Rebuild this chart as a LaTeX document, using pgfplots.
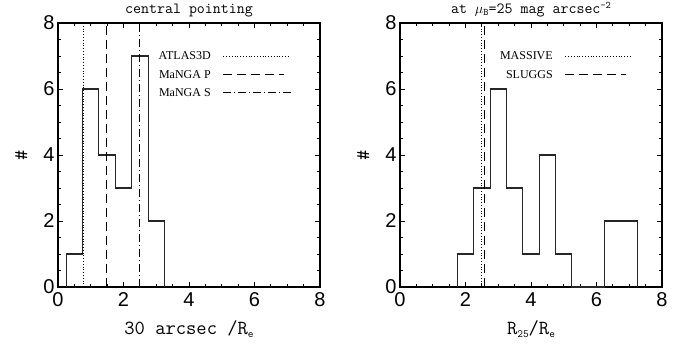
\documentclass[border=0pt]{standalone}
\usepackage{pgfplots}
\pgfplotsset{compat=1.18}
\usepackage{fontspec}
\setmainfont{Liberation Serif}
\newfontfamily\sansf{Liberation Sans}
\pgfplotsset{
  idl/.style={
    scale only axis,
    width=262pt, height=264pt,
    xmin=0, xmax=8, ymin=0, ymax=8,
    xtick={0,2,4,6,8}, ytick={0,2,4,6,8},
    minor x tick num=3, minor y tick num=3,
    tick align=inside,
    tick pos=both,
    major tick length=5pt, minor tick length=3pt,
    axis line style={line width=1.3pt},
    every tick/.style={line width=0.8pt, black},
    /pgf/number format/assume math mode=true,
    tick label style={font=\sansf\fontsize{20}{20}\selectfont},
    xticklabel style={yshift=-2pt},
    title style={font=\ttfamily\fontsize{15.5}{16}\selectfont, at={(axis description cs:0.5,1)}, anchor=base, yshift=4pt},
    xlabel style={font=\ttfamily\fontsize{20}{20}\selectfont, at={(axis description cs:0.5,0)}, anchor=base, yshift=-47pt},
    ylabel style={font=\ttfamily\fontsize{20}{20}\selectfont, at={(axis description cs:-0.14,0.5)}, anchor=center},
    clip=false,
  },
  hist/.style={const plot mark left, line width=1.1pt, black!85, no marks},
}
\tikzset{leg/.style={font=\fontsize{12}{12}\selectfont, anchor=east, inner sep=0pt}}
\begin{document}
\begin{tikzpicture}[x=1pt,y=1pt]
\useasboundingbox (0,0) rectangle (684,345);
\begin{axis}[idl, at={(58pt,58pt)}, anchor=south west,
  title={central pointing},
  xlabel={30 arcsec /R\raisebox{-0.35ex}{\fontsize{11}{11}\selectfont e}},
  ylabel={\#}]
\addplot[hist] coordinates {(0.25,0) (0.25,1) (0.75,6) (1.25,4) (1.75,3) (2.25,7) (2.75,2) (3.25,0)};
\addplot[black, line width=0.8pt, dotted] coordinates {(0.78,0) (0.78,8)};
\addplot[black, line width=0.8pt, dash pattern=on 9pt off 5pt] coordinates {(1.49,0) (1.49,8)};
\addplot[black, line width=0.8pt, dash pattern=on 8pt off 3pt on 1pt off 3pt] coordinates {(2.5,0) (2.5,8)};
\addplot[black, line width=0.8pt, dotted] coordinates {(5.05,7.0) (7.1,7.0)};
\addplot[black, line width=0.8pt, dash pattern=on 9pt off 5pt] coordinates {(5.05,6.45) (6.9,6.45)};
\addplot[black, line width=0.8pt, dash pattern=on 8pt off 3pt on 1pt off 3pt] coordinates {(5.05,5.9) (7.1,5.9)};
\node[leg] at (axis cs:4.67,7.0) {ATLAS3D};
\node[leg] at (axis cs:4.67,6.45) {MaNGA P};
\node[leg] at (axis cs:4.67,5.9) {MaNGA S};
\end{axis}
\begin{axis}[idl, at={(400pt,58pt)}, anchor=south west,
  title={at $\mu$\raisebox{-0.35ex}{\fontsize{10}{10}\selectfont B}=25 mag arcsec\raisebox{0.7ex}{\fontsize{10}{10}\selectfont -2}},
  xlabel={R\raisebox{-0.35ex}{\fontsize{11}{11}\selectfont 25}/R\raisebox{-0.35ex}{\fontsize{11}{11}\selectfont e}},
  ylabel={\#}]
\addplot[hist] coordinates {(1.75,0) (1.75,1) (2.25,3) (2.75,6) (3.25,3) (3.75,1) (4.25,4) (4.75,1) (5.25,0) (6.25,2) (6.75,2) (7.25,0)};
\addplot[black, line width=0.8pt, dotted] coordinates {(2.48,0) (2.48,8)};
\addplot[black, line width=0.8pt, dash pattern=on 9pt off 5pt] coordinates {(2.58,0) (2.58,8)};
\addplot[black, line width=0.8pt, dotted] coordinates {(5.05,7.0) (7.1,7.0)};
\addplot[black, line width=0.8pt, dash pattern=on 9pt off 5pt] coordinates {(5.05,6.45) (6.9,6.45)};
\node[leg] at (axis cs:4.67,7.0) {MASSIVE};
\node[leg] at (axis cs:4.67,6.45) {SLUGGS};
\end{axis}
\end{tikzpicture}
\end{document}
